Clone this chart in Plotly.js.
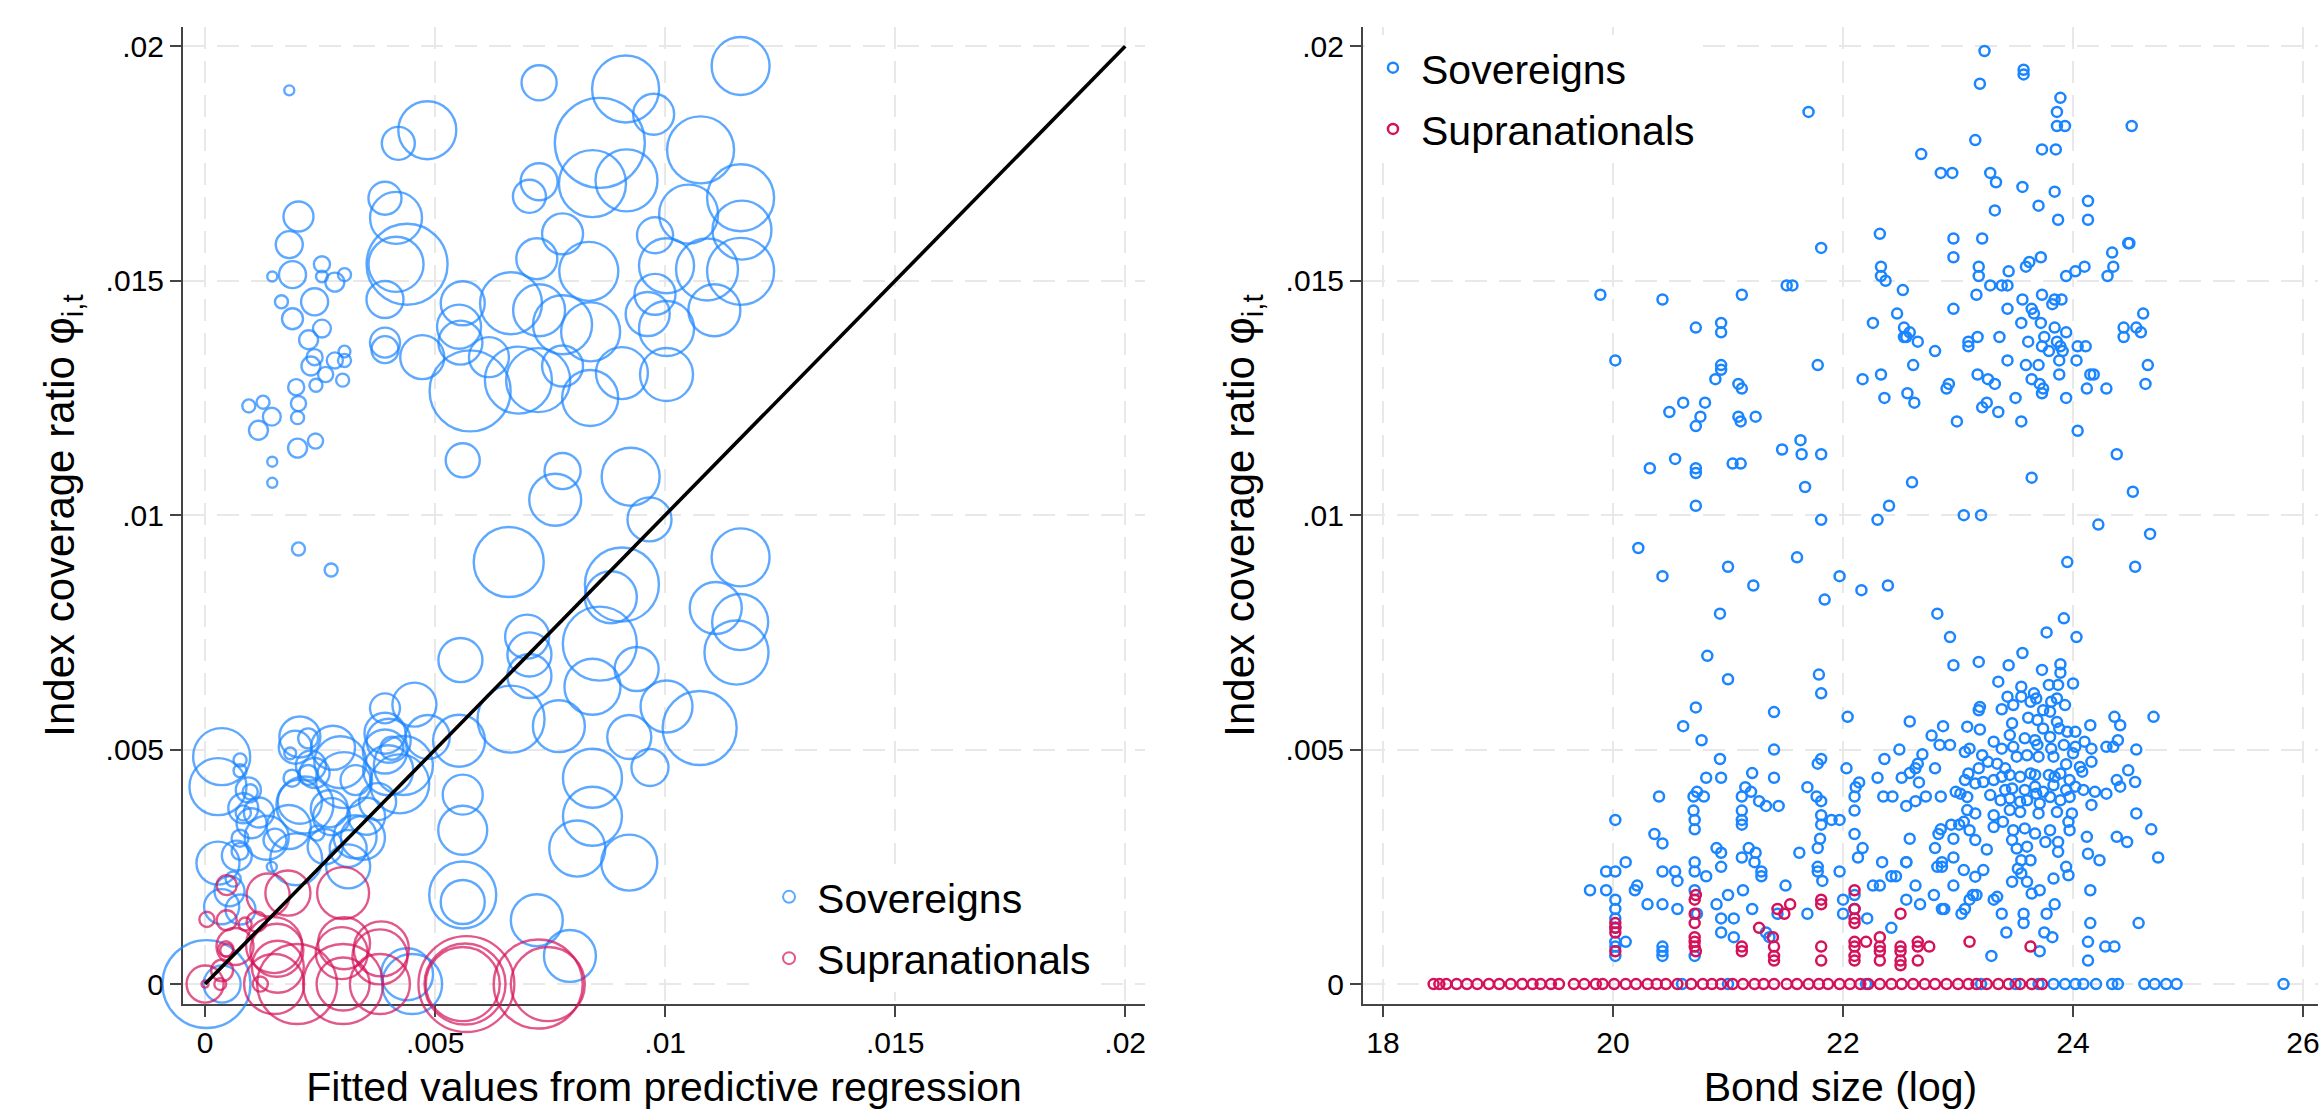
<!DOCTYPE html>
<html><head><meta charset="utf-8">
<script src="https://cdn.plot.ly/plotly-3.0.1.min.js"></script>
<style>html,body{margin:0;padding:0;background:#fff}#chart{width:2321px;height:1113px}</style>
</head><body><div id="chart"></div>
<script>
// ---------------- DATA ----------------
const seriesNames = ['Sovereigns', 'Supranationals'];
const coverageTicks = [0, 0.005, 0.01, 0.015, 0.02];
const coverageTickText = ['0', '.005', '.01', '.015', '.02'];
const bondSizeTicks = [18, 20, 22, 24, 26];
const bondSizeTickText = ['18', '20', '22', '24', '26'];
const diagonal = [0, 0.02];

// Left panel: [fitted value, coverage ratio, weight]
const sovBubblesSmall = [
[.00183,.01906,1.0],[.00203,.01637,9.0],[.00183,.01577,7.3],[.0019,.01513,7.3],[.00146,.01509,1.0],[.00166,.01455,1.7],[.00238,.01455,7.3],[.0019,.01419,4.4],[.00254,.01535,2.6],[.00254,.01509,1.4],[.00282,.01497,3.6],[.00303,.01513,1.7],[.00254,.01398,3.2],[.00225,.01374,3.6],[.0023,.01318,3.6],[.00238,.01337,2.6],[.00282,.0133,2.6],[.00303,.01349,1.4],[.00303,.0133,1.7],[.00299,.01288,1.7],[.00262,.013,2.3],[.00241,.01277,1.7],[.00198,.01273,2.6],[.00203,.01238,2.3],[.00201,.01208,1.7],[.00095,.01233,1.7],[.00126,.01241,1.7],[.00145,.0121,3.2],[.00116,.01181,3.6],[.0024,.01158,2.3],[.00201,.01143,3.6],[.00146,.01114,1.0],[.00146,.01069,1.0],[.00203,.00928,1.7],[.00274,.00883,1.7]
];
const sovBubblesUpper = [
[.01164,.01958,33.6],[.00726,.01922,12.3],[.00914,.01909,44.9],[.00483,.01821,33.6],[.0042,.01793,10.9],[.00975,.01855,16.8],[.00858,.01794,81],[.01077,.01779,44.9],[.00726,.01711,13.7],[.00705,.0168,10.9],[.00842,.01707,44.9],[.00916,.01714,38.4],[.01164,.01677,44.9],[.01051,.01642,34.8],[.01167,.01608,34.8],[.00391,.01676,10.9],[.00415,.01634,27],[.00777,.016,16.8],[.00978,.01597,13],[.00439,.01535,65.6],[.00415,.01535,30.3],[.00391,.0146,13.7],[.00721,.01547,16.8],[.00834,.0152,34.8],[.01091,.01524,38.4],[.01003,.01532,30.3],[.00978,.01471,16.8],[.01107,.01437,27],[.01164,.0152,44.9],[.0056,.01452,19.4],[.00552,.01402,19.4],[.00665,.01452,38.4],[.00726,.01437,27],[.00777,.01406,34.8],[.00838,.01391,34.8],[.01003,.01398,30.3],[.00962,.01429,19.4],[.00391,.01368,9],[.00391,.01353,7.3],[.00555,.01368,19.4],[.00576,.01265,65.6],[.00681,.01288,44.9],[.00724,.01288,41],[.00837,.0125,31.4],[.00777,.01318,16.8],[.00906,.01303,27],[.01003,.013,28.1],[.00472,.01337,19.4],[.00617,.01337,16],[.0056,.01117,11.6],[.00777,.01094,13],[.00761,.01033,27],[.00925,.01082,33.6],[.00966,.00991,19.4],[.0066,.0090,49],[.01164,.0091,33.6]
];
const sovBubblesMiddle = [
[.00906,.00852,54.8],[.00882,.00825,27],[.0111,.00802,27],[.01163,.00772,31.4],[.01155,.00707,41],[.007,.00741,19.4],[.00705,.00703,19.4],[.00858,.00726,54.8],[.00555,.00691,19.4],[.00705,.00657,19.4],[.00842,.00634,31.4],[.00938,.00672,19.4],[.01003,.00592,27],[.01075,.00546,54.8],[.00391,.00588,9],[.00455,.00596,19.4],[.00665,.00565,44.9],[.00769,.0055,27],[.00552,.00519,27],[.00399,.00519,19.4],[.00391,.00535,16.8],[.00922,.00527,19.4],[.00842,.00439,34.8],[.00967,.00462,13.7],[.0056,.00404,16],[.0056,.00328,24],[.00842,.00358,34.8],[.00809,.00289,31.4],[.00922,.00259,31.4],[.0056,.00175,19.4],[.0056,.0019,44.9],[.00721,.00136,27],[.00793,.0006,27],[.00439,.00021,27]
];
const sovBubblesLow = [
[.00036,.00485,32.5],[.00028,.00421,32.5],[.00076,.00478,1.7],[.00076,.00455,1.7],[.00094,.00414,6.3],[.00098,.0041,2.3],[.00083,.00365,2.3],[.00083,.00375,9],[.00076,.00311,2.9],[.00076,.00283,2.9],[.00028,.00258,18.5],[.00196,.00505,10.9],[.00224,.00524,4],[.00185,.00492,1.4],[.00189,.00439,2.9],[.00224,.00446,4],[.00217,.00382,32.5],[.00275,.00357,13.7],[.00243,.00322,2.3],[.00261,.00293,12.3],[.00145,.0025,1],[.00152,.00307,5.3],[.00406,.00503,5.3],[.00398,.00456,25],[.00326,.00314,18.5],[.00101,.00343,9],[.00069,.00274,9],[.00134,.00312,19.4],[.00117,.00366,9],[.00206,.00527,16.8],[.0023,.00466,9],[.00238,.0045,9],[.00206,.00389,19.4],[.00278,.00504,19.4],[.00294,.00473,27],[.00302,.00435,31.4],[.0027,.00374,13.7],[.00182,.00335,19.4],[.00327,.00435,9],[.00351,.00358,13.7],[.00343,.00312,19.4],[.00311,.00289,13.7],[.00391,.00496,19.4],[.00431,.00466,34.8],[.00423,.00427,34.8],[.00484,.00527,19.4],[.00375,.00389,13.7],[.00311,.00251,19.4],[.00198,.00266,27],[.00053,.00198,9],[.00061,.00224,2.3],[.00077,.00159,9],[.00036,.00165,12.3],[.00003,0,77.4],[.00037,0,13.7],[.0045,0,36]
];
const supBubbles = [
[.00047,.00211,4],[.00004,.00138,2.3],[.00047,.00136,4],[.00087,.00128,1.7],[.00112,.00133,4],[.00137,.0019,18.5],[.0018,.00194,20.3],[.003,.00194,27],[.00047,.00072,1.7],[.00065,.0008,13.7],[.00156,.00072,28.1],[.0015,.00083,31.4],[.00297,.00066,27],[.00302,.00087,27],[.0038,.00058,30.3],[.00383,.00075,30.3],[.00158,.00037,27],[.00037,.00029,4.8],[.00045,.00075,2.3],[0,0,0.5],[.00033,0,1.4],[0,0,13.7],[.0012,0,2.3],[.0015,0,36],[.002,0,64],[.003,0,28.1],[.003,0,64],[.0038,0,36],[.00568,0,92],[.00565,0,65.6],[.0056,0,54.8],[.00724,0,79.2],[.00745,0,54.8]
];

// Right panel: [bond size (log), coverage ratio]
const sovPointsUpper = [
[23.23,.0199],[23.57,.0195],[23.57,.0194],[23.19,.0192],[23.89,.0189],[21.70,.0186],[23.86,.0186],[23.86,.0183],[23.93,.0183],[24.51,.0183],[23.15,.0180],[22.68,.0177],[23.73,.0178],[23.85,.0178],[22.85,.0173],[22.95,.0173],[23.28,.0173],[23.33,.0171],[23.56,.0170],[23.84,.0169],[24.13,.0167],[23.32,.0165],[23.70,.0166],[23.87,.0163],[24.13,.0163],[22.32,.0160],[22.96,.0159],[23.21,.0159],[21.81,.0157],[24.48,.0158],[24.49,.0158],[24.34,.0156],[22.96,.0155],[23.72,.0155],[23.62,.0154],[23.59,.0153],[23.18,.0153],[23.18,.0151],[22.33,.0153],[22.33,.0151],[22.37,.0150],[23.44,.0152],[23.38,.0149],[23.43,.0149],[23.94,.0151],[24.02,.0152],[24.10,.0153],[24.35,.0153],[24.30,.0151],[23.28,.0149],[21.51,.0149],[21.56,.0149],[22.52,.0148],[19.89,.0147],[20.43,.0146],[21.12,.0147],[23.16,.0147],[23.73,.0147],[23.56,.0146],[23.84,.0146],[23.90,.0146],[23.82,.0145],[23.43,.0144],[23.64,.0144],[23.66,.0143],[22.96,.0144],[22.47,.0143],[24.61,.0143],[22.26,.0141],[23.55,.0141],[23.72,.0141],[23.84,.0140],[23.94,.0139],[24.44,.0140],[24.55,.0140],[24.44,.0138],[24.59,.0139],[20.72,.0140],[20.94,.0141],[20.94,.0139],[22.53,.0140],[22.55,.0138],[22.58,.0139],[22.53,.0138],[22.65,.0137],[23.17,.0138],[23.09,.0137],[23.09,.0136],[23.36,.0138],[23.61,.0137],[23.75,.0138],[23.86,.0137],[23.89,.0136],[23.79,.0135],[23.73,.0136],[23.91,.0135],[24.04,.0136],[24.11,.0136],[22.80,.0135],[20.02,.0133],[21.78,.0132],[20.94,.0132],[20.94,.0131],[20.89,.0129],[22.61,.0132],[23.43,.0133],[23.59,.0132],[23.70,.0132],[23.88,.0133],[24.03,.0133],[24.65,.0132],[24.63,.0128],[22.33,.0130],[22.17,.0129],[23.17,.0130],[23.26,.0129],[23.32,.0128],[23.64,.0129],[23.71,.0128],[23.88,.0130],[24.15,.0130],[24.18,.0130],[21.09,.0128],[21.12,.0127],[22.92,.0128],[22.90,.0127],[22.56,.0126],[22.62,.0124],[22.36,.0125],[23.50,.0125],[23.73,.0126],[23.74,.0127],[23.94,.0125],[24.12,.0127],[24.29,.0127],[20.61,.0124],[20.80,.0124],[20.49,.0122],[20.76,.0121],[20.72,.0119],[21.09,.0121],[21.11,.0120],[21.24,.0121],[23.21,.0123],[23.25,.0124],[23.35,.0122],[22.99,.0120],[23.55,.0120],[24.04,.0118],[21.63,.0116],[21.47,.0114],[21.64,.0113],[21.81,.0113],[20.54,.0112],[20.32,.0110],[20.72,.0110],[20.72,.0109],[21.04,.0111],[21.11,.0111],[24.38,.0113],[21.67,.0106],[22.60,.0107],[23.64,.0108],[24.52,.0105],[20.72,.0102],[22.40,.0102],[23.05,.0100],[23.20,.0100],[21.81,.0099],[22.30,.0099],[24.22,.0098],[24.67,.0096],[20.22,.0093],[21.60,.0091],[23.95,.0090]
];
const sovPointsMiddle = [
[21.00,.0089],[20.43,.0087],[24.54,.0089],[21.97,.0087],[21.22,.0085],[22.16,.0084],[22.39,.0085],[21.84,.0082],[20.93,.0079],[22.82,.0079],[22.93,.0074],[23.77,.0075],[23.92,.0078],[24.03,.0074],[20.82,.0070],[21.00,.0065],[22.96,.0068],[21.79,.0066],[21.81,.0062],[20.72,.0059],[21.40,.0058],[22.04,.0057],[20.61,.0055],[20.77,.0052],[22.58,.0056],[22.87,.0055],[24.70,.0057],[21.40,.0050],[22.77,.0053],[22.49,.0050],[22.69,.0049],[22.84,.0051],[22.93,.0051],[20.93,.0048],[21.78,.0047],[21.81,.0048],[22.03,.0046],[22.36,.0048],[22.63,.0046],[22.80,.0046],[20.81,.0044],[20.94,.0044],[21.21,.0045],[21.40,.0044],[21.69,.0042],[22.14,.0043],[22.30,.0044],[22.51,.0044],[22.66,.0043],[22.58,.0045],[22.65,.0047],[20.40,.0040],[20.70,.0040],[20.73,.0041],[20.79,.0040],[21.15,.0042],[21.20,.0041],[21.12,.0040],[21.27,.0039],[21.33,.0038],[21.44,.0038],[21.77,.0040],[21.81,.0039],[22.10,.0040],[22.11,.0042],[22.35,.0040],[22.43,.0040],[22.55,.0038],[22.63,.0039],[22.72,.0040],[22.85,.0040],[22.98,.0041],[20.02,.0035],[20.70,.0037],[20.71,.0035],[20.71,.0033],[21.12,.0037],[21.12,.0035],[21.12,.0034],[21.81,.0036],[21.81,.0034],[21.90,.0035],[21.97,.0035],[22.10,.0037],[22.10,.0032],[22.85,.0033],[22.83,.0032],[22.94,.0034],[23.01,.0034],[22.96,.0031],[24.68,.0033],[24.74,.0027],[20.36,.0032],[20.43,.0030],[20.90,.0029],[20.94,.0028],[21.18,.0029],[21.12,.0027],[21.24,.0028],[21.62,.0028],[21.78,.0029],[21.80,.0031],[22.13,.0027],[22.17,.0029],[22.34,.0026],[22.55,.0026],[22.58,.0031],[22.80,.0029],[22.86,.0026],[22.86,.0025],[22.82,.0025],[22.96,.0027]
];
const sovPointsCluster = [
[23.56,.00706],[23.18,.00687],[23.44,.00680],[23.73,.00670],[23.89,.00682],[23.89,.00664],[23.35,.00645],[23.55,.00634],[23.79,.00638],[23.87,.00638],[24.00,.00641],[23.43,.00613],[23.55,.00613],[23.66,.00620],[23.68,.00609],[23.63,.00602],[23.48,.00595],[23.38,.00586],[23.19,.00591],[23.18,.00584],[23.74,.00584],[23.81,.00602],[23.86,.00609],[23.93,.00595],[23.80,.00581],[23.61,.00568],[23.69,.00563],[23.86,.00559],[23.47,.00556],[23.08,.00549],[23.19,.00543],[24.15,.00552],[24.36,.00570],[24.41,.00552],[23.74,.00545],[23.88,.00545],[23.95,.00538],[24.02,.00538],[23.45,.00531],[23.58,.00524],[23.67,.00520],[23.80,.00527],[23.31,.00517],[23.69,.00510],[23.81,.00502],[23.92,.00510],[24.02,.00506],[24.10,.00517],[24.16,.00502],[24.29,.00506],[24.35,.00506],[24.39,.00520],[24.55,.00500],[23.06,.00495],[23.10,.00502],[23.21,.00488],[23.38,.00502],[23.48,.00506],[23.51,.00485],[23.60,.00488],[23.70,.00485],[23.83,.00485],[24.00,.00492],[23.94,.00469],[24.16,.00474],[24.06,.00463],[24.08,.00453],[24.48,.00456],[23.26,.00474],[23.34,.00470],[23.41,.00460],[23.18,.00460],[23.09,.00449],[23.06,.00435],[23.15,.00428],[23.22,.00431],[23.31,.00435],[23.38,.00442],[23.45,.00446],[23.54,.00442],[23.63,.00449],[23.67,.00446],[23.79,.00446],[23.84,.00442],[23.89,.00449],[23.97,.00435],[24.02,.00421],[24.09,.00414],[24.19,.00410],[24.29,.00406],[24.38,.00435],[24.41,.00421],[24.54,.00431],[23.41,.00414],[23.47,.00417],[23.58,.00414],[23.67,.00421],[23.74,.00410],[23.83,.00424],[23.94,.00414],[23.02,.00406],[23.08,.00399],[23.28,.00403],[23.37,.00392],[23.45,.00396],[23.54,.00389],[23.60,.00392],[23.68,.00406],[23.71,.00385],[23.80,.00399],[23.89,.00392],[23.97,.00399],[24.16,.00382],[23.08,.00371],[23.15,.00364],[23.31,.00360],[23.45,.00371],[23.54,.00367],[23.70,.00364],[23.86,.00367],[23.99,.00364],[24.55,.00364],[23.05,.00346],[23.31,.00335],[23.39,.00346],[23.48,.00328],[23.58,.00332],[23.67,.00321],[23.80,.00328],[23.96,.00346],[23.97,.00328],[24.12,.00314],[24.38,.00314],[24.47,.00303],[23.10,.00328],[23.15,.00307],[23.25,.00287],[23.47,.00307],[23.51,.00289],[23.60,.00293],[23.76,.00303],[23.87,.00303],[23.87,.00282],[24.13,.00278],[24.23,.00264],[23.55,.00264],[23.63,.00264],[23.52,.00246],[23.94,.00250],[23.05,.00243],[23.22,.00243],[23.15,.00229],[23.55,.00236],[23.47,.00218],[23.60,.00218],[23.83,.00225],[23.96,.00232],[24.15,.00200],[23.71,.00200],[23.16,.00190],[23.34,.00186],[23.64,.00193]
];
const sovPointsLow = [
[19.80,.0020],[19.94,.0024],[19.94,.0020],[20.02,.0024],[20.11,.0026],[20.02,.0018],[20.19,.0020],[20.21,.0021],[20.02,.0016],[20.02,.0014],[20.02,.0012],[20.02,.0009],[20.02,.0008],[20.02,.0006],[20.11,.0009],[20.30,.0017],[20.43,.0024],[20.43,.0017],[20.43,.0008],[20.43,.0007],[20.43,.0006],[20.54,.0024],[20.56,.0022],[20.56,.0016],[20.71,.0026],[20.71,.0024],[20.71,.0020],[20.73,.0015],[20.71,.0006],[20.81,.0023],[20.94,.0025],[20.94,.0014],[20.94,.0011],[21.00,.0019],[20.90,.0017],[21.05,.0014],[21.05,.0010],[21.13,.0020],[21.21,.0016],[21.23,.0026],[21.29,.0024],[21.29,.0023],[21.36,.0010],[21.33,.0011],[21.50,.0021],[21.43,.0015],[21.69,.0015],[21.78,.0025],[21.78,.0024],[21.82,.0022],[21.97,.0024],[22.00,.0018],[22.00,.0015],[22.10,.0019],[22.10,.0016],[22.21,.0014],[22.26,.0021],[22.32,.0021],[22.42,.0012],[22.42,.0023],[22.46,.0023],[22.55,.0018],[22.63,.0021],[22.67,.0017],[22.55,.0026],[22.79,.0019],[22.86,.0016],[22.88,.0016],[22.96,.0021],[23.03,.0015],[23.06,.0016],[23.13,.0019],[23.10,.0018],[23.29,.0006],[23.38,.0015],[23.42,.0011],[23.57,.0015],[23.57,.0013],[23.75,.0011],[23.77,.0015],[23.82,.0010],[23.71,.0007],[23.84,.0017],[23.31,.0018],[24.15,.0013],[24.13,.0009],[24.13,.0005],[24.28,.0008],[24.36,.0008],[24.57,.0013]
];
const sovPointsZero = [
[20.6,0],[21.0,0],[22.2,0],[23.2,0],[23.5,0],[23.7,0],[23.83,0],[23.93,0],[24.02,0],[24.09,0],[24.20,0],[24.34,0],[24.39,0],[24.62,0],[24.71,0],[24.81,0],[24.90,0],[25.83,0]
];
const supPointsLow = [
[20.71,.0018],[20.72,.0019],[20.02,.0013],[20.02,.0012],[20.02,.0011],[20.02,.0007],[20.71,.0015],[20.71,.0013],[20.71,.0010],[20.71,.0009],[20.71,.0008],[20.72,.0007],[21.27,.0012],[21.12,.0008],[21.12,.0007],[21.39,.0010],[21.40,.0008],[21.40,.0006],[21.40,.0005],[21.43,.0016],[21.49,.0015],[21.54,.0017],[21.81,.0018],[21.81,.0017],[21.81,.0008],[21.81,.0005],[22.10,.0020],[22.10,.0016],[22.10,.0014],[22.10,.0013],[22.10,.0009],[22.10,.0008],[22.10,.0006],[22.10,.0005],[22.20,.0009],[22.32,.0010],[22.32,.0008],[22.32,.0007],[22.32,.0005],[22.50,.0015],[22.50,.0008],[22.50,.0007],[22.50,.0005],[22.50,.0004],[22.65,.0009],[22.65,.0008],[22.65,.0005],[22.75,.0008],[23.10,.0009],[23.63,.0008]
];
const supPointsZero = [
[18.44,0],[18.49,0],[18.55,0],[18.64,0],[18.73,0],[18.82,0],[18.92,0],[19.01,0],[19.11,0],[19.21,0],[19.30,0],[19.37,0],[19.46,0],[19.53,0],[19.66,0],[19.75,0],[19.85,0],[19.91,0],[20.01,0],[20.11,0],[20.20,0],[20.30,0],[20.38,0],[20.46,0],[20.56,0],[20.68,0],[20.78,0],[20.86,0],[20.94,0],[21.04,0],[21.13,0],[21.23,0],[21.31,0],[21.40,0],[21.51,0],[21.60,0],[21.70,0],[21.79,0],[21.87,0],[21.97,0],[22.06,0],[22.15,0],[22.22,0],[22.32,0],[22.42,0],[22.51,0],[22.61,0],[22.71,0],[22.80,0],[22.90,0],[23.00,0],[23.09,0],[23.16,0],[23.25,0],[23.35,0],[23.44,0],[23.54,0],[23.64,0],[23.73,0]
];

// ---------------- BUILD ----------------
const col = (rows, i) => rows.map(r => r[i]);
const sovBubbles = [].concat(sovBubblesSmall, sovBubblesUpper, sovBubblesMiddle, sovBubblesLow);
const sovPoints = [].concat(sovPointsUpper, sovPointsMiddle, sovPointsCluster, sovPointsLow, sovPointsZero);
const supPoints = [].concat(supPointsLow, supPointsZero);

const BLUE = '#1A85FF', RED = '#D41159';
const FONT = '"Liberation Sans", Arial, Helvetica, sans-serif';

function bubbleTrace(rows, name, color, group) {
  return {type:'scatter', mode:'markers', name:name, x:col(rows,0), y:col(rows,1),
    xaxis:'x', yaxis:'y', legend:'legend', legendgroup:group, cliponaxis:false, hoverinfo:'skip',
    marker:{symbol:'circle-open', color:color, size:col(rows,2), sizemode:'area', sizeref:0.02, line:{width:2.4}}};
}
function pointTrace(rows, name, color, group) {
  return {type:'scatter', mode:'markers', name:name, x:col(rows,0), y:col(rows,1),
    xaxis:'x2', yaxis:'y2', legend:'legend2', legendgroup:group, cliponaxis:false, hoverinfo:'skip',
    marker:{symbol:'circle-open', color:color, size:10, line:{width:2.5}}};
}

const traces = [
  bubbleTrace(sovBubbles, seriesNames[0], BLUE, 'a'),
  bubbleTrace(supBubbles, seriesNames[1], RED, 'b'),
  {type:'scatter', mode:'lines', x:diagonal, y:diagonal, xaxis:'x', yaxis:'y', showlegend:false,
   cliponaxis:false, hoverinfo:'skip', line:{color:'#000', width:3.6}},
  pointTrace(sovPoints, seriesNames[0], BLUE, 'c'),
  pointTrace(supPoints, seriesNames[1], RED, 'd')
];

const axisBase = {showline:true, linecolor:'#444', linewidth:2, ticks:'outside', ticklen:11, tickwidth:2,
  tickcolor:'#444', showgrid:true, gridcolor:'#e8e8e8', gridwidth:2, griddash:'22px,12px',
  zeroline:false, tickfont:{family:FONT, size:30, color:'#000'}, fixedrange:true, automargin:false, layer:'below traces'};

const yDomain = [0.0979, 0.9757];
const yTitle = {text:'Index coverage ratio φ<sub>i,t</sub>', font:{family:FONT, size:42, color:'#000'}, standoff:18};

const legendBase = {xanchor:'left', yanchor:'top', bgcolor:'#fff', borderwidth:0,
  font:{family:FONT, size:41, color:'#000'}, itemwidth:46, traceorder:'grouped', tracegroupgap:5};

const layout = {
  width:2321, height:1113, margin:{l:0, r:0, t:0, b:0, pad:0},
  paper_bgcolor:'#fff', plot_bgcolor:'#fff', font:{family:FONT, color:'#000'},
  showlegend:true,
  xaxis: Object.assign({}, axisBase, {domain:[0.07885, 0.49332], range:[-0.00048, 0.02043], anchor:'y',
    tickmode:'array', tickvals:coverageTicks, ticktext:coverageTickText,
    title:{text:'Fitted values from predictive regression', font:{family:FONT, size:41, color:'#000'}, standoff:14}}),
  yaxis: Object.assign({}, axisBase, {domain:yDomain, range:[-0.000426, 0.02041], anchor:'x',
    tickmode:'array', tickvals:coverageTicks, ticktext:coverageTickText, title:yTitle}),
  xaxis2: Object.assign({}, axisBase, {domain:[0.58725, 0.99871], range:[17.826, 26.13], anchor:'y2',
    tickmode:'array', tickvals:bondSizeTicks, ticktext:bondSizeTickText,
    title:{text:'Bond size (log)', font:{family:FONT, size:41, color:'#000'}, standoff:14}}),
  yaxis2: Object.assign({}, axisBase, {domain:yDomain, range:[-0.000426, 0.02041], anchor:'x2',
    tickmode:'array', tickvals:coverageTicks, ticktext:coverageTickText, title:yTitle}),
  legend: Object.assign({}, legendBase, {x:0.3279, y:0.224, itemsizing:'constant'}),
  legend2: Object.assign({}, legendBase, {x:0.5881, y:0.969})
};

Plotly.newPlot('chart', traces, layout, {staticPlot:true, displayModeBar:false});
</script>
</body></html>
